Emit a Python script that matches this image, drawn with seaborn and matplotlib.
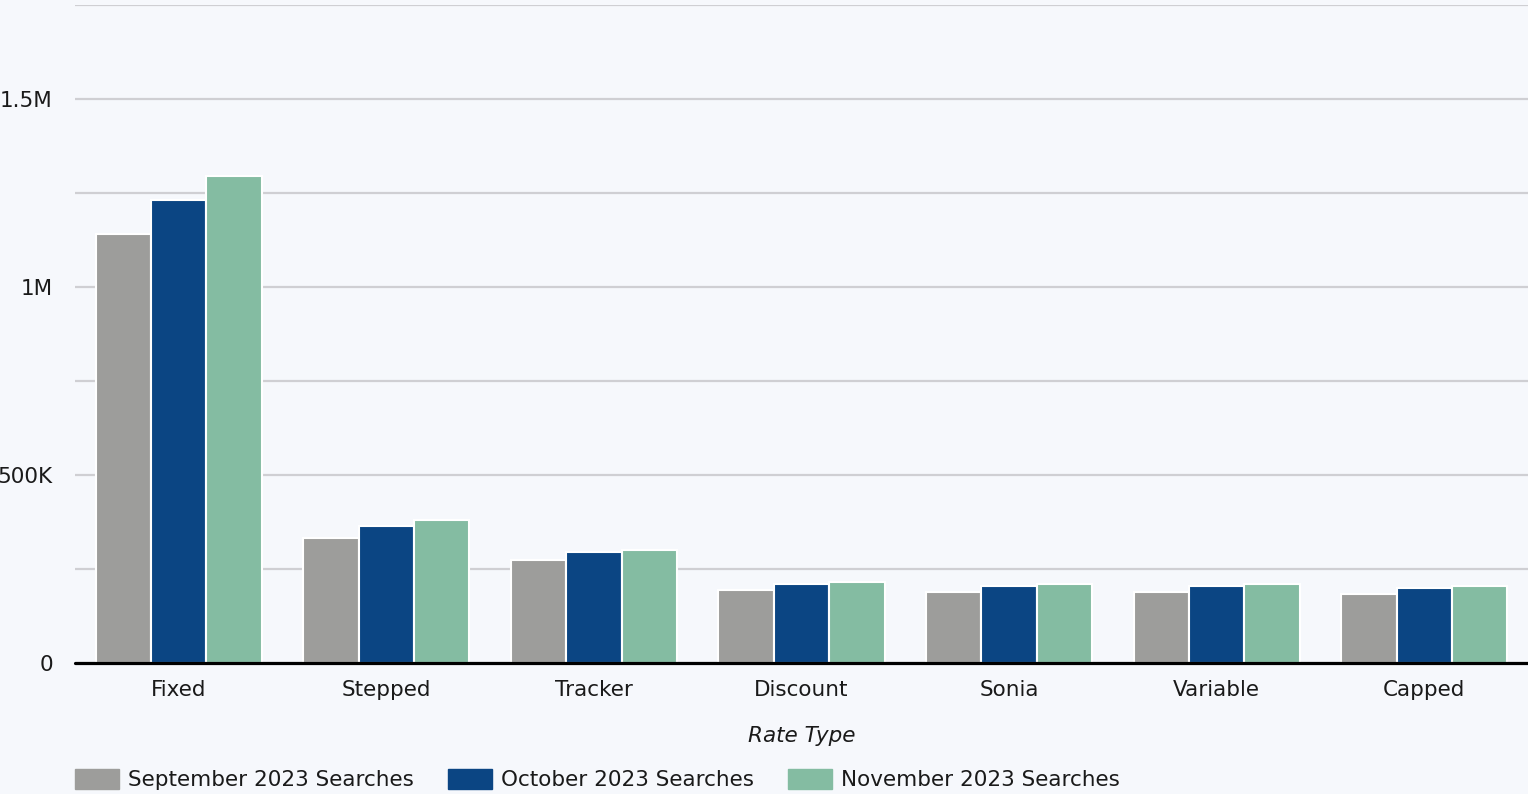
import numpy as np
import pandas as pd
import matplotlib.pyplot as plt
import seaborn as sns
from matplotlib.ticker import FuncFormatter

# 数据
rate_types = ['Fixed', 'Stepped', 'Tracker', 'Discount', 'Sonia', 'Variable', 'Capped']
series_names = ['September 2023 Searches', 'October 2023 Searches', 'November 2023 Searches']
sep_searches = [1141000, 332000, 274000, 194000, 189000, 189000, 184000]
oct_searches = [1231000, 364000, 295000, 210000, 205000, 205000, 199000]
nov_searches = [1295000, 380000, 300000, 215000, 210000, 210000, 205000]
colors = ['#9d9d9b', '#0b4583', '#84bca2']

df = pd.DataFrame({
    'Rate Type': rate_types * 3,
    'Searches': sep_searches + oct_searches + nov_searches,
    'Series': [s for s in series_names for _ in rate_types],
})

bg = '#f6f8fc'
sns.set_theme(style='white')
plt.rcParams['font.family'] = ['DejaVu Sans']
fs = 15.5

fig = plt.figure(figsize=(15.28, 7.94), dpi=100, facecolor=bg)
ax = fig.add_axes([75 / 1528, 131 / 794, 1 - 75 / 1528, (663 - 5) / 794])
ax.set_facecolor(bg)

sns.barplot(data=df, x='Rate Type', y='Searches', hue='Series', palette=colors,
            width=0.8, edgecolor='white', linewidth=1.5, saturation=1, ax=ax, zorder=3)

ax.set_xlim(-0.5, 6.5)
ax.set_ylim(0, 1750000)
ax.set_yticks(np.arange(0, 1750001, 250000))


def fmt(v, pos):
    if v == 0:
        return '0'
    if v % 500000 != 0:
        return ''
    if v >= 1000000:
        return '{:g}M'.format(v / 1000000)
    return '{:g}K'.format(v / 1000)


ax.yaxis.set_major_formatter(FuncFormatter(fmt))
ax.grid(axis='y', color='#cfcfd3', linewidth=1.6, zorder=0)
ax.tick_params(axis='y', length=0, pad=16, labelsize=fs, labelcolor='#1a1a1a')
ax.tick_params(axis='x', length=0, pad=12, labelsize=fs, labelcolor='#1a1a1a')
for s in ax.spines.values():
    s.set_visible(False)
ax.axhline(0, color='black', linewidth=2.3, zorder=5, clip_on=False)

ax.set_ylabel('')
ax.set_xlabel('Rate Type', fontsize=fs, fontstyle='italic', color='#1a1a1a', labelpad=19)

ax.get_legend().remove()
handles = [plt.Rectangle((0, 0), 1, 1, color=c) for c in colors]
fig.legend(handles, series_names, loc='lower left', bbox_to_anchor=(75 / 1528, 4 / 794),
           ncol=3, frameon=False, fontsize=fs, handlelength=2.05, handleheight=1.05,
           handletextpad=0.4, columnspacing=1.6, borderpad=0, borderaxespad=0,
           labelcolor='#1a1a1a')

fig.savefig('out.png', dpi=100, facecolor=bg)
